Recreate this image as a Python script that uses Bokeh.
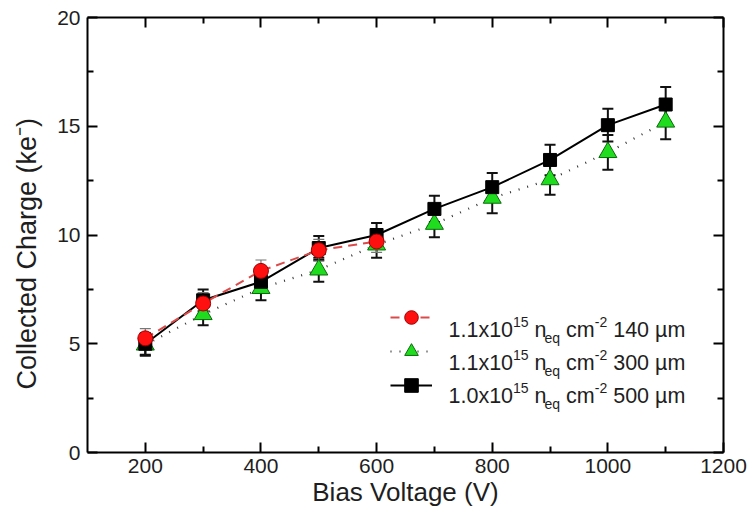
from bokeh.plotting import figure
from bokeh.models import (ColumnDataSource, Whisker, TeeHead, LinearAxis, FixedTicker,
                          Range1d, Legend, LegendItem, Label, CustomJSTickFormatter)
from bokeh.embed import file_html
from bokeh.resources import INLINE

# ---------------- data ----------------
voltage_500 = [200, 300, 400, 500, 600, 700, 800, 900, 1000, 1100]
charge_500 = [5.0, 7.0, 7.85, 9.4, 10.0, 11.2, 12.2, 13.45, 15.05, 16.0]
err_500 = [0.5, 0.5, 0.5, 0.55, 0.55, 0.6, 0.65, 0.7, 0.75, 0.8]

voltage_300 = [200, 300, 400, 500, 600, 700, 800, 900, 1000, 1100]
charge_300 = [4.95, 6.35, 7.55, 8.4, 9.55, 10.5, 11.7, 12.55, 13.8, 15.2]
err_300 = [0.5, 0.5, 0.55, 0.55, 0.6, 0.6, 0.7, 0.7, 0.8, 0.8]

voltage_140 = [200, 300, 400, 500, 600]
charge_140 = [5.25, 6.85, 8.35, 9.3, 9.7]
err_140 = [0.45, 0.5, 0.5, 0.5, 0.5]

legend_fluence = ["1.1", "1.1", "1.0"]
legend_thickness = ["140", "300", "500"]

x_major = [200, 400, 600, 800, 1000, 1200]
x_minor = [300, 500, 700, 900, 1100]
y_major = [0, 5, 10, 15, 20]
y_minor = [2.5, 7.5, 12.5, 17.5]

x_title = "Bias Voltage (V)"
y_title = "Collected Charge (ke\u207B)"

FONT = "Liberation Sans"
TXT = "#1e1e1e"

def src(v, c, e):
    return ColumnDataSource(dict(x=v, y=c, lo=[a - b for a, b in zip(c, e)],
                                 hi=[a + b for a, b in zip(c, e)]))

s500 = src(voltage_500, charge_500, err_500)
s300 = src(voltage_300, charge_300, err_300)
s140 = src(voltage_140, charge_140, err_140)

p = figure(width=750, height=515, output_backend="svg", toolbar_location=None,
           x_range=Range1d(100, 1200), y_range=Range1d(0, 20),
           min_border_left=87, min_border_right=27, min_border_top=17, min_border_bottom=63)
p.grid.visible = False
p.outline_line_color = None
p.background_fill_color = "white"
p.border_fill_color = "white"

# lines
l500 = p.line("x", "y", source=s500, line_color="black", line_width=2)
l300 = p.line("x", "y", source=s300, line_color="#333333", line_width=2.2, line_dash="1 8")
l140 = p.line("x", "y", source=s140, line_color="#dc4a4a", line_width=2, line_dash="9 6")

# error bars
def whisk(s, color, w):
    wk = Whisker(source=s, base="x", lower="lo", upper="hi", line_color=color, line_width=w,
                 upper_head=TeeHead(size=11, line_color=color, line_width=w),
                 lower_head=TeeHead(size=11, line_color=color, line_width=w))
    p.add_layout(wk)

whisk(s300, "#111111", 2)
whisk(s500, "#111111", 2)
whisk(s140, "#777777", 1.2)

m300 = p.scatter("x", "y", source=s300, marker="triangle", size=18,
                 fill_color="#1fdc1f", line_color="#0a6a0a", line_width=1)
m500 = p.scatter("x", "y", source=s500, marker="square", size=13,
                 fill_color="black", line_color="black")
m140 = p.scatter("x", "y", source=s140, marker="circle", size=15,
                 fill_color="#ff1010", line_color="#a00000", line_width=1)

# axes
xt = FixedTicker(ticks=x_major, minor_ticks=x_minor)
yt = FixedTicker(ticks=y_major, minor_ticks=y_minor)
blank = CustomJSTickFormatter(code="return ''")

def style(ax, labels=True):
    ax.axis_line_width = 2
    ax.major_tick_line_width = 2
    ax.minor_tick_line_width = 2
    ax.major_tick_in = 10
    ax.major_tick_out = 0
    ax.minor_tick_in = 6
    ax.minor_tick_out = 0
    ax.major_label_text_font = FONT
    ax.major_label_text_font_size = "21px"
    ax.major_label_text_color = TXT
    ax.axis_label_text_font = FONT
    ax.axis_label_text_font_style = "normal"
    ax.axis_label_text_color = TXT
    if not labels:
        ax.formatter = blank
        ax.major_label_standoff = 0

p.xaxis.ticker = xt
p.yaxis.ticker = yt
style(p.xaxis[0])
style(p.yaxis[0])
p.xaxis.axis_label = x_title
p.xaxis.axis_label_text_font_size = "26px"
p.xaxis.major_label_standoff = 6
p.xaxis.axis_label_standoff = 1
# trailing no-break spaces shift the rotated title a little below the frame centre
p.yaxis.axis_label = y_title + "\u00a0" * 5
p.yaxis.axis_label_text_font_size = "27px"
p.yaxis.major_label_standoff = 7
p.yaxis.axis_label_standoff = 12

top = LinearAxis(ticker=xt)
style(top, labels=False)
p.add_layout(top, "above")
right = LinearAxis(ticker=yt)
style(right, labels=False)
p.add_layout(right, "right")

# legend (glyph samples) + rich text labels
legend = Legend(items=[
    LegendItem(label=" ", renderers=[l140, m140]),
    LegendItem(label=" ", renderers=[l300, m300]),
    LegendItem(label=" ", renderers=[l500, m500]),
], location=(303, 50), glyph_width=42, glyph_height=34, label_height=32, label_width=1,
    spacing=-1, padding=0, margin=0, border_line_color=None, background_fill_alpha=0,
    label_text_font_size="1px")
p.add_layout(legend, "center")

W = {'0': 556, '1': 556, '2': 556, '3': 556, '4': 556, '5': 556, '.': 278, 'x': 500,
     ' ': 278, 'n': 556, 'e': 556, 'q': 556, 'c': 500, 'm': 833, '-': 333, '\u00b5': 576}

def tw(s, size):
    return sum(W.get(ch, 556) for ch in s) / 1000.0 * size

BASE, SCRIPT = 21.5, 14
x0 = 361
baselines = [123, 90, 57]
for f, t, yb in zip(legend_fluence, legend_thickness, baselines):
    pieces = [(f + "x10", "b"), ("15", "sup"), (" n", "b"), ("eq", "sub"),
              (" cm", "b"), ("-2", "sup"), (" " + t, "b"), (" \u00b5m", "b")]
    x = x0
    for txt, kind in pieces:
        size = BASE if kind == "b" else SCRIPT
        lead = len(txt) - len(txt.lstrip(" "))
        x += tw(" " * lead, size)
        body = txt.strip(" ")
        dy = 0 if kind == "b" else (8 if kind == "sup" else -8)
        p.add_layout(Label(x=x, y=yb + dy, x_units="screen", y_units="screen", text=body,
                           text_font=FONT, text_font_size=f"{size}px", text_color=TXT,
                           text_baseline="alphabetic", text_align="left"))
        x += tw(body, size)
        if kind == "b" and body == "n":
            x -= 2

open("out.html", "w").write(file_html(p, INLINE))
